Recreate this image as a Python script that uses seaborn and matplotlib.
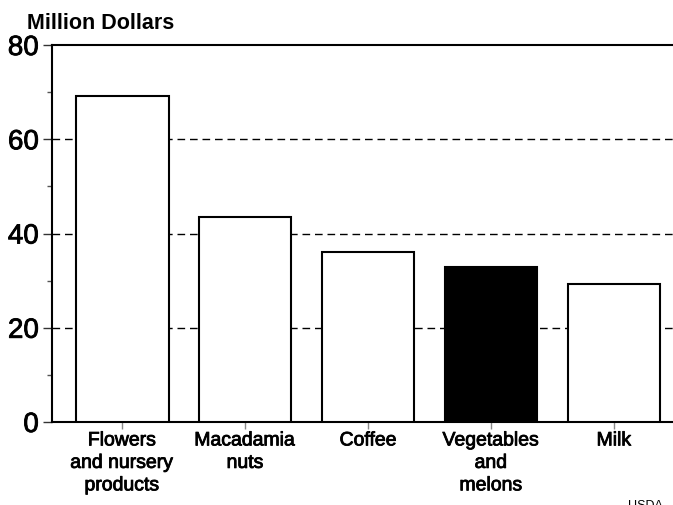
import pandas as pd
import matplotlib
matplotlib.use("Agg")
import matplotlib.pyplot as plt
import matplotlib.patheffects as pe
import seaborn as sns
from matplotlib.ticker import MultipleLocator

# data
categories = ["Flowers\nand nursery\nproducts", "Macadamia\nnuts", "Coffee",
              "Vegetables\nand\nmelons", "Milk"]
values = [69.2, 43.5, 36.1, 33.0, 29.3]
bar_colors = ["white", "white", "white", "black", "white"]
y_ticks = [0, 20, 40, 60, 80]

sns.set_style("white")
plt.rcParams['font.family'] = ['Liberation Sans', 'DejaVu Sans']
plt.rcParams['text.color'] = 'black'
plt.rcParams['xtick.labelcolor'] = 'black'
plt.rcParams['ytick.labelcolor'] = 'black'

df = pd.DataFrame({"category": categories, "value": values})
palette = dict(zip(categories, bar_colors))

fig = plt.figure(figsize=(6.73, 5.06), dpi=100)
ax = fig.add_axes([0.0773, 0.164, 0.9227, 0.745])

sns.barplot(data=df, x="category", y="value", hue="category", palette=palette,
            legend=False, width=0.755, edgecolor="black", linewidth=1.5,
            saturation=1, ax=ax, zorder=3)

# dashed reference lines behind the bars
for y in y_ticks[1:-1]:
    ax.axhline(y, color="black", linestyle=(0, (5.5, 3.5)), linewidth=1, zorder=1)

ax.set_xlim(-0.57, 4.48)
ax.set_ylim(0, 80)
ax.set_yticks(y_ticks)
ax.yaxis.set_minor_locator(MultipleLocator(10))
ax.set_xlabel("")
ax.set_ylabel("")

for side in ["left", "bottom", "top"]:
    ax.spines[side].set_visible(True)
    ax.spines[side].set_color("black")
    ax.spines[side].set_linewidth(1.5)
ax.spines["right"].set_visible(False)

ax.tick_params(axis="y", which="major", left=True, length=6.5, width=1,
               color="#333333", pad=3, labelsize=20, labelcolor="black")
ax.tick_params(axis="y", which="minor", left=True, length=3.5, width=1,
               color="#555555")
ax.tick_params(axis="x", bottom=True, length=5, width=1, color="#888888",
               pad=2.5, labelsize=14, labelcolor="black")

thick = [pe.withStroke(linewidth=0.6, foreground="black")]
for lbl in ax.get_yticklabels():
    lbl.set_path_effects(thick)
for lbl in ax.get_xticklabels():
    lbl.set_linespacing(1.42)
    lbl.set_path_effects(thick)

fig.text(27 / 673, 1 - 24 / 506, "Million Dollars", ha="left", va="center",
         fontsize=15.5, fontweight="bold", color="black")
fig.text(628 / 673, 0.0, "USDA", ha="left", va="center", fontsize=9,
         color="black")

fig.savefig("out.png", dpi=100)
